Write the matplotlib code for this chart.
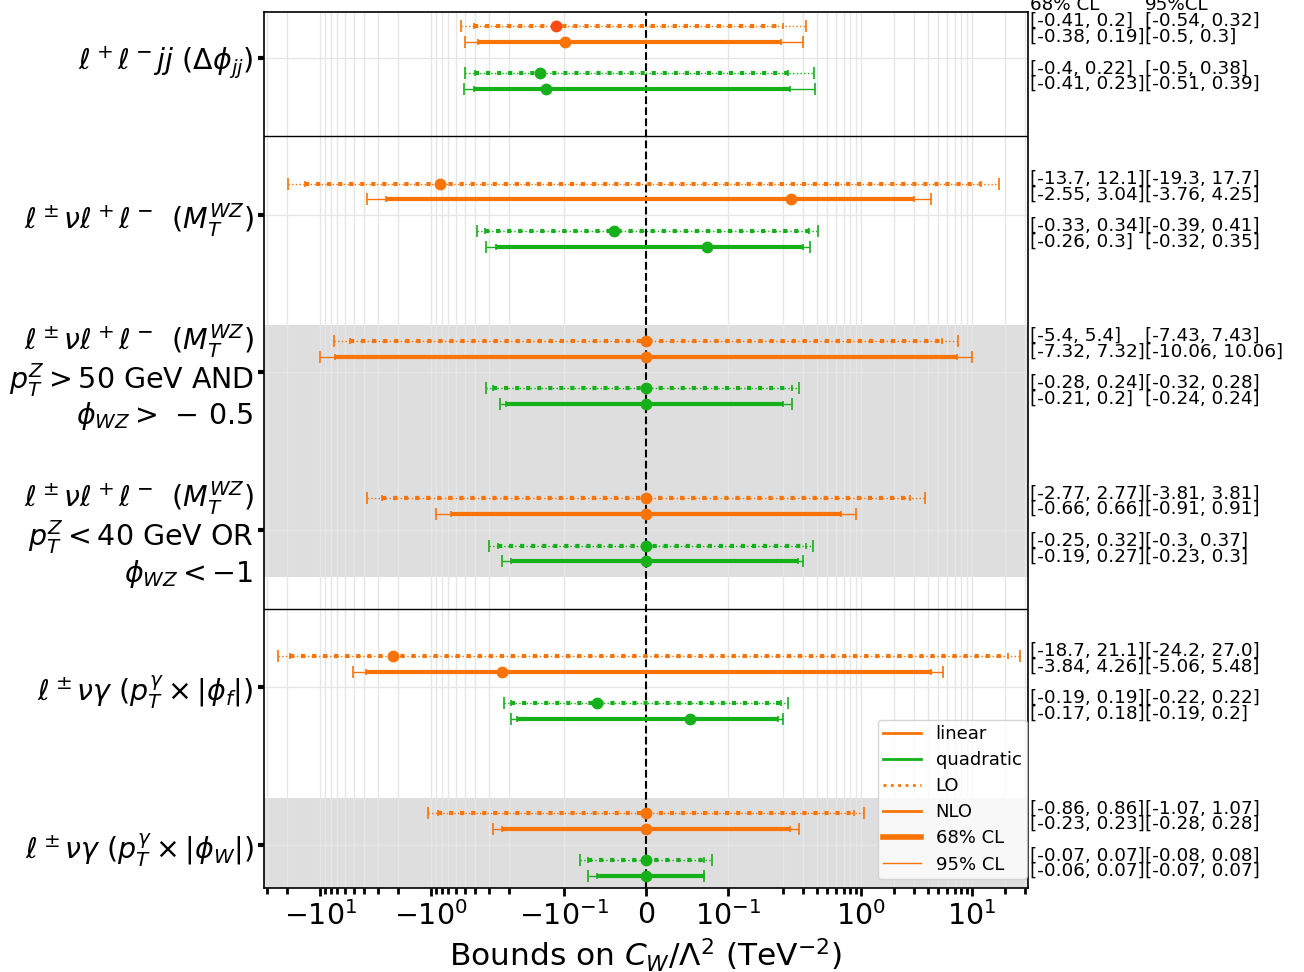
import numpy as np
import matplotlib.pyplot as plt
from matplotlib.lines import Line2D

# category labels (top to bottom)
channels = [
    r'$\ell^+\ell^-jj\ (\Delta\phi_{jj})$',
    r'$\ell^\pm\nu\ell^+\ell^-\ \,(M_T^{WZ})$',
    r'$\ell^\pm\nu\ell^+\ell^-\ \,(M_T^{WZ})$' + '\n' + r'$p_T^Z > 50$ GeV AND' + '\n' + r'$\phi_{WZ} >\,-\,0.5$',
    r'$\ell^\pm\nu\ell^+\ell^-\ \,(M_T^{WZ})$' + '\n' + r'$p_T^Z < 40$ GeV OR' + '\n' + r'$\phi_{WZ} < -1$',
    r'$\ell^\pm\nu\gamma\ (p_T^\gamma \times |\phi_f|)$',
    r'$\ell^\pm\nu\gamma\ (p_T^\gamma \times |\phi_W|)$',
]

# 68% / 95% CL intervals and best-fit points, one entry per channel
lo_lin_68 = [(-0.41, 0.2), (-13.7, 12.1), (-5.4, 5.4), (-2.77, 2.77), (-18.7, 21.1), (-0.86, 0.86)]
lo_lin_95 = [(-0.54, 0.32), (-19.3, 17.7), (-7.43, 7.43), (-3.81, 3.81), (-24.2, 27.0), (-1.07, 1.07)]
lo_lin_best = [-0.11, -0.84, 0.0, 0.0, -2.2, 0.0]

nlo_lin_68 = [(-0.38, 0.19), (-2.55, 3.04), (-7.32, 7.32), (-0.66, 0.66), (-3.84, 4.26), (-0.23, 0.23)]
nlo_lin_95 = [(-0.5, 0.3), (-3.76, 4.25), (-10.06, 10.06), (-0.91, 0.91), (-5.06, 5.48), (-0.28, 0.28)]
nlo_lin_best = [-0.098, 0.235, 0.0, 0.0, -0.23, 0.0]

lo_quad_68 = [(-0.4, 0.22), (-0.33, 0.34), (-0.28, 0.24), (-0.25, 0.32), (-0.19, 0.19), (-0.07, 0.07)]
lo_quad_95 = [(-0.5, 0.38), (-0.39, 0.41), (-0.32, 0.28), (-0.3, 0.37), (-0.22, 0.22), (-0.08, 0.08)]
lo_quad_best = [-0.129, -0.039, 0.0, 0.0, -0.059, 0.0]

nlo_quad_68 = [(-0.41, 0.23), (-0.26, 0.3), (-0.21, 0.2), (-0.19, 0.27), (-0.17, 0.18), (-0.06, 0.07)]
nlo_quad_95 = [(-0.51, 0.39), (-0.32, 0.35), (-0.24, 0.24), (-0.23, 0.3), (-0.19, 0.2), (-0.07, 0.07)]
nlo_quad_best = [-0.122, 0.074, 0.0, 0.0, 0.054, 0.0]

xticks = [-10, -1, -0.1, 0, 0.1, 1, 10]
xticklabels = [r'$-10^{1}$', r'$-10^{0}$', r'$-10^{-1}$', r'$0$', r'$10^{-1}$', r'$10^{0}$', r'$10^{1}$']

orange = '#f97306'
green = '#15b01a'
hilite = '#fc4a14'

series = [
    (lo_lin_68, lo_lin_95, lo_lin_best, orange, ':', -0.2),
    (nlo_lin_68, nlo_lin_95, nlo_lin_best, orange, '-', -0.1),
    (lo_quad_68, lo_quad_95, lo_quad_best, green, ':', 0.1),
    (nlo_quad_68, nlo_quad_95, nlo_quad_best, green, '-', 0.2),
]

fig, ax = plt.subplots(figsize=(13.04, 9.72), dpi=100)
fig.subplots_adjust(left=0.2025, right=0.7883, top=0.9877, bottom=0.0864)
ax.set_xscale('symlog', linthresh=0.15, linscale=1)

# shaded bands and separators
ax.axhspan(1.7, 3.3, color='#dedede', lw=0, zorder=0.5)
ax.axhspan(4.7, 5.3, color='#dedede', lw=0, zorder=0.5)
ax.axhline(0.5, color='k', lw=1)
ax.axhline(3.5, color='k', lw=1)
ax.axvline(0, color='k', ls='--', lw=1.5, zorder=1.8)

trans = ax.get_yaxis_transform()
for i in range(len(channels)):
    for ci68, ci95, best, col, ls, off in series:
        y = i + off
        c = best[i]
        lo, hi = ci95[i]
        eb = ax.errorbar(c, y, xerr=[[c - lo], [hi - c]], fmt='none', ecolor=col,
                         elinewidth=1, capsize=4, capthick=1.2)
        eb[2][0].set_linestyle(ls)
        lo, hi = ci68[i]
        eb = ax.errorbar(c, y, xerr=[[c - lo], [hi - c]], fmt='none', ecolor=col,
                         elinewidth=3, capsize=2.5, capthick=1.2)
        eb[2][0].set_linestyle(ls)
        mc = hilite if (i == 0 and off == -0.2) else col
        ax.plot(c, y, 'o', color=mc, ms=7.5, zorder=3)
        ax.text(1.003, y, '[{}, {}]'.format(*ci68[i]), transform=trans,
                fontsize=13.2, va='baseline', ha='left', clip_on=False)
        ax.text(1.153, y, '[{}, {}]'.format(*ci95[i]), transform=trans,
                fontsize=13.2, va='baseline', ha='left', clip_on=False)

ax.text(1.003, -0.3, '68% CL', transform=trans, fontsize=13.2, va='baseline')
ax.text(1.153, -0.3, '95%CL', transform=trans, fontsize=13.2, va='baseline')

ax.set_xlim(-32, 32)
ax.set_ylim(5.275, -0.29)

ax.set_xticks(xticks)
ax.set_xticklabels(xticklabels, fontsize=20.5)
minor = [s * k * d for s in (-1, 1) for d in (0.1, 1, 10) for k in range(2, 10)]
minor = [m for m in minor if abs(m) < 32]
ax.set_xticks(minor, minor=True)
ax.tick_params(axis='x', which='major', length=6, width=2)
ax.tick_params(axis='x', which='minor', length=4, width=2)

ax.set_yticks(range(len(channels)))
ax.set_yticklabels(channels, fontsize=20.5, linespacing=1.05)
ax.tick_params(axis='y', length=4, width=3)

ax.grid(True, which='both', axis='x', color='#e6e6e6', lw=1)
ax.grid(True, which='major', axis='y', color='#e6e6e6', lw=1)
for sp in ax.spines.values():
    sp.set_linewidth(1.2)

ax.set_xlabel(r'Bounds on $C_W/\Lambda^2$ (TeV$^{-2}$)', fontsize=22.5)

handles = [
    Line2D([], [], color=orange, lw=2),
    Line2D([], [], color=green, lw=2),
    Line2D([], [], color=orange, lw=2, ls=':'),
    Line2D([], [], color=orange, lw=2),
    Line2D([], [], color=orange, lw=4),
    Line2D([], [], color=orange, lw=1),
]
ax.legend(handles, ['linear', 'quadratic', 'LO', 'NLO', '68% CL', '95% CL'],
          loc='lower right', bbox_to_anchor=(1.0105, 0.0), fontsize=13,
          handlelength=2.1, borderpad=0.3, labelspacing=0.45)

fig.savefig('out.png', dpi=100)
